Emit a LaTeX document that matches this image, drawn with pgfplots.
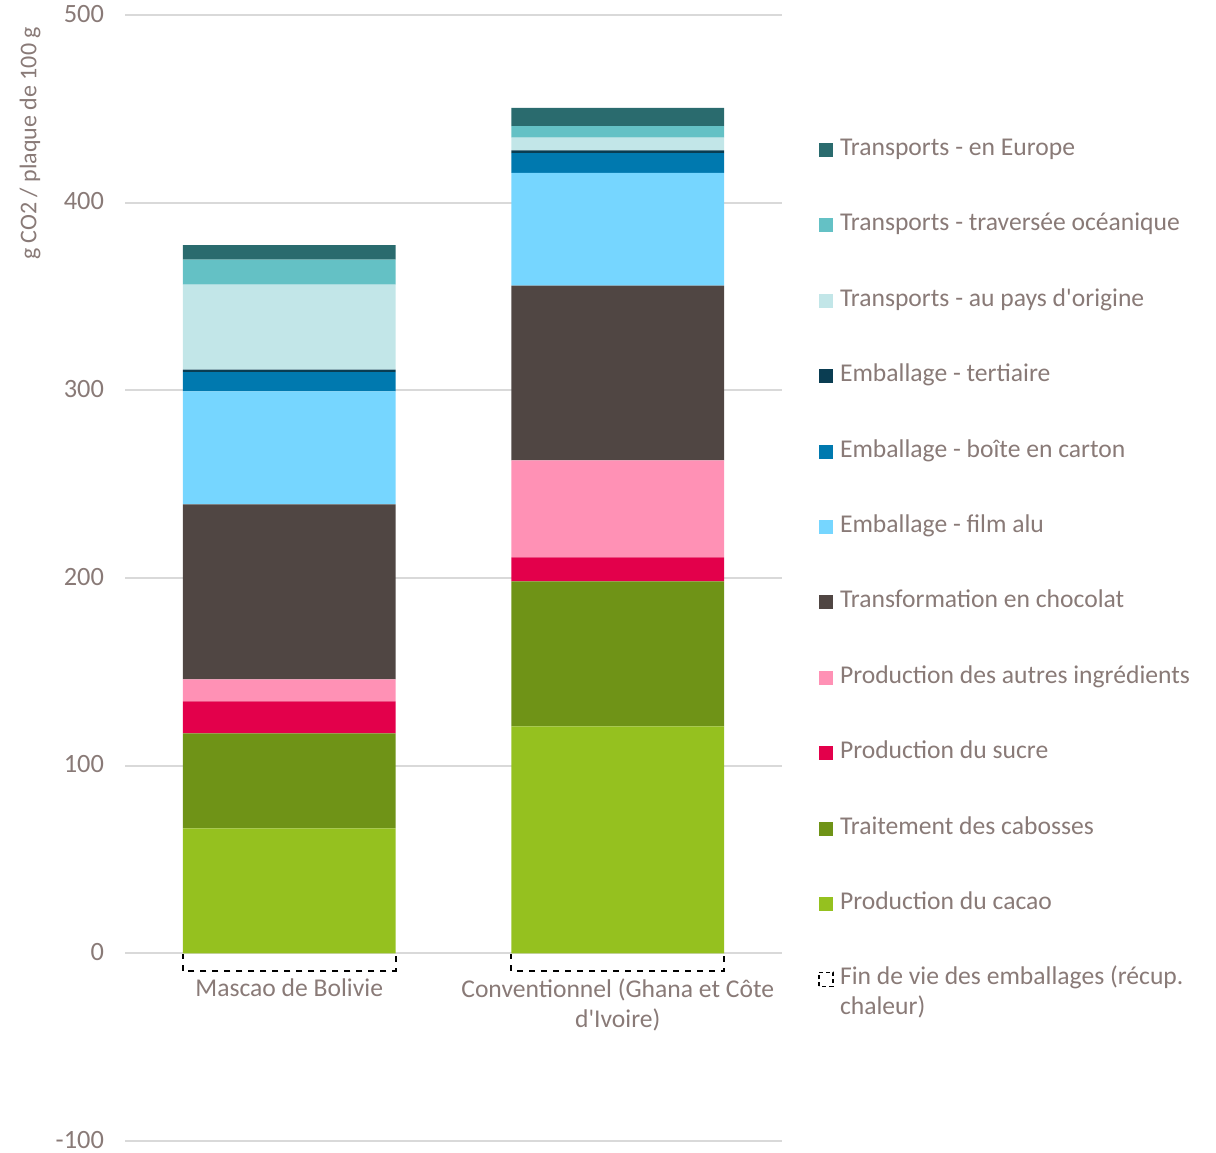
\documentclass[border=0pt]{standalone}
\usepackage{pgfplots}
\pgfplotsset{compat=1.18}
\usepackage{fontspec}
\setmainfont{Carlito}

\definecolor{txt}{RGB}{137,122,119}
\definecolor{gridc}{RGB}{217,217,217}
\definecolor{cEurope}{RGB}{42,107,110}
\definecolor{cOcean}{RGB}{100,193,197}
\definecolor{cOrigine}{RGB}{194,230,232}
\definecolor{cTert}{RGB}{10,61,82}
\definecolor{cBoite}{RGB}{0,121,175}
\definecolor{cAlu}{RGB}{118,214,255}
\definecolor{cTransfo}{RGB}{80,70,67}
\definecolor{cAutres}{RGB}{255,145,181}
\definecolor{cSucre}{RGB}{227,0,75}
\definecolor{cCabosse}{RGB}{111,147,23}
\definecolor{cCacao}{RGB}{149,193,31}

\pgfplotsset{
  base/.style={
    at={(62.5pt,5.5pt)}, anchor=south west,
    scale only axis, width=328.5pt, height=563pt,
    xmin=-0.5, xmax=1.5, ymin=-100, ymax=500,
    bar width=0.648,
  },
  sq/.style={legend image code/.code={\fill[##1] (0pt,-3.5pt) rectangle (7pt,3.5pt);}},
  sqd/.style={legend image code/.code={\draw[##1] (0.4pt,-3.1pt) rectangle (6.6pt,3.1pt);}},
}

\begin{document}
\begin{tikzpicture}[font=\fontsize{12.8}{15}\selectfont]
\useasboundingbox (0,0) rectangle (608pt,576pt);
% fin de vie (negative part), own axis under the stacked one
\begin{axis}[base, hide axis, ybar]
  \addplot[fill=white, draw=black, dashed, line width=1pt] coordinates {(0,-9.5) (1,-9.5)};
\end{axis}
\begin{axis}[base, ybar stacked,
  axis line style={draw=none},
  ymajorgrids, grid style={gridc, line width=1pt},
  major tick length=0pt,
  ytick={-100,0,...,500},
  xtick={0,1},
  xticklabels={Mascao de Bolivie, {Conventionnel (Ghana et Côte\\d\textquotesingle Ivoire)}},
  xticklabel style={align=center, yshift=84.5pt, text=txt},
  yticklabel style={xshift=-7pt, inner ysep=0pt, yshift=0.6pt, text=txt, font=\fontsize{13.2}{15}\selectfont},
  /pgf/number format/assume math mode=true,
  every axis plot post/.append style={sq},
  reverse legend,
  legend cell align=left,
  legend style={draw=none, fill=none, at={(1.0457,0.8934)}, anchor=north west,
    text=txt, row sep=27.2pt, column sep=3pt,
    nodes={inner sep=0pt, text height=8pt, text depth=2.5pt}},
]
  \addlegendimage{sqd, fill=white, draw=black, dashed, dash pattern=on 2pt off 1.5pt, line width=0.8pt}
  \addlegendentry{\parbox[t]{190pt}{\raggedright Fin de vie des emballages (récup.\\chaleur)}}
  \addplot[fill=cCacao, draw=none] coordinates {(0,66.6) (1,120.9)};
  \addlegendentry{Production du cacao}
  \addplot[fill=cCabosse, draw=none] coordinates {(0,50.6) (1,77.3)};
  \addlegendentry{Traitement des cabosses}
  \addplot[fill=cSucre, draw=none] coordinates {(0,17.1) (1,12.8)};
  \addlegendentry{Production du sucre}
  \addplot[fill=cAutres, draw=none] coordinates {(0,11.7) (1,51.7)};
  \addlegendentry{Production des autres ingrédients}
  \addplot[fill=cTransfo, draw=none] coordinates {(0,93.2) (1,93.1)};
  \addlegendentry{Transformation en chocolat}
  \addplot[fill=cAlu, draw=none] coordinates {(0,60.2) (1,60.1)};
  \addlegendentry{Emballage - film alu}
  \addplot[fill=cBoite, draw=none] coordinates {(0,10.3) (1,10.5)};
  \addlegendentry{Emballage - boîte en carton}
  \addplot[fill=cTert, draw=none] coordinates {(0,1.3) (1,1.4)};
  \addlegendentry{Emballage - tertiaire}
  \addplot[fill=cOrigine, draw=none] coordinates {(0,45.3) (1,6.8)};
  \addlegendentry{Transports - au pays d\textquotesingle origine}
  \addplot[fill=cOcean, draw=none] coordinates {(0,13.3) (1,6.2)};
  \addlegendentry{Transports - traversée océanique}
  \addplot[fill=cEurope, draw=none] coordinates {(0,7.8) (1,9.7)};
  \addlegendentry{Transports - en Europe}
\end{axis}
\node[rotate=90, anchor=east, text=txt, font=\fontsize{12}{14}\selectfont] at (15pt,566pt) {g CO2 / plaque de 100 g};
\end{tikzpicture}
\end{document}
